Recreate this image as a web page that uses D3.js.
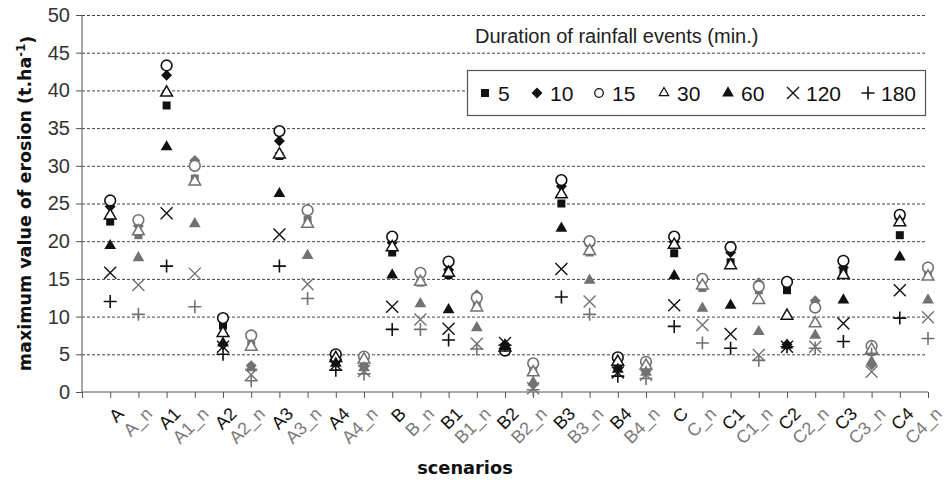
<!DOCTYPE html>
<html>
<head>
<meta charset="utf-8">
<script src="https://cdn.jsdelivr.net/npm/d3@7"></script>
<style>
  body { margin: 0; background: #fff; }
  text { font-family: "Liberation Sans", Arial, sans-serif; }
</style>
</head>
<body>
<div id="chart"></div>
<script>
const scenarios = ["A", "A_n", "A1", "A1_n", "A2", "A2_n", "A3", "A3_n", "A4", "A4_n",
  "B", "B_n", "B1", "B1_n", "B2", "B2_n", "B3", "B3_n", "B4", "B4_n",
  "C", "C_n", "C1", "C1_n", "C2", "C2_n", "C3", "C3_n", "C4", "C4_n"];

const durations = ["5", "10", "15", "30", "60", "120", "180"];

// one array per rainfall duration, same order as scenarios
const d5   = [22.6, 20.8, 38.0, 28.3, 8.8, 6.3, 31.3, 22.8, 4.3, 3.6, 18.5, 14.5, 15.5, 11.5, 5.8, 3.3, 25.0, 18.5, 3.5, 3.0, 18.4, 13.8, 17.2, 13.5, 13.5, 11.6, 15.9, 5.3, 20.8, 15.5];
const d10  = [24.6, 22.0, 42.0, 30.7, 6.3, 3.5, 33.3, 24.3, 4.0, 3.5, 19.8, 15.8, 16.2, 12.9, 6.3, 1.0, 27.3, 19.5, 3.2, 2.8, 19.9, 14.8, 18.5, 14.5, 6.3, 12.1, 16.5, 3.6, 23.0, 16.6];
const d15  = [25.4, 22.8, 43.3, 30.0, 9.8, 7.5, 34.6, 24.1, 5.0, 4.7, 20.6, 15.8, 17.3, 12.5, 5.5, 3.8, 28.1, 20.0, 4.6, 4.0, 20.6, 15.0, 19.2, 14.0, 14.6, 11.2, 17.4, 6.1, 23.5, 16.5];
const d30  = [23.4, 21.3, 39.7, 27.9, 7.8, 6.0, 31.5, 22.3, 4.5, 4.3, 19.2, 14.6, 15.8, 11.2, 5.9, 2.6, 26.2, 18.7, 4.0, 3.5, 19.5, 14.1, 16.8, 12.2, 10.1, 9.1, 15.5, 5.6, 22.5, 15.3];
const d60  = [19.4, 17.8, 32.5, 22.3, 6.5, 3.2, 26.3, 18.1, 3.8, 3.2, 15.5, 11.7, 10.9, 8.5, 6.0, 1.3, 21.7, 14.8, 3.0, 2.6, 15.4, 11.1, 11.5, 8.0, 6.2, 7.5, 12.2, 4.0, 17.9, 12.2];
const d120 = [15.8, 14.2, 23.7, 15.7, 6.0, 2.3, 20.9, 14.3, 3.6, 2.8, 11.3, 9.6, 8.4, 6.4, 6.5, 0.5, 16.3, 12.0, 2.6, 2.3, 11.5, 8.9, 7.7, 4.9, 6.0, 6.0, 9.1, 2.7, 13.5, 9.9];
const d180 = [12.0, 10.3, 16.7, 11.3, 5.0, 1.5, 16.7, 12.4, 2.9, 2.4, 8.3, 8.3, 6.9, 5.7, 6.2, 0.3, 12.6, 10.3, 2.1, 1.8, 8.7, 6.5, 5.8, 4.2, 6.0, 5.8, 6.7, 5.0, 9.8, 7.1];

const seriesValues = [d5, d10, d15, d30, d60, d120, d180];
const yTicks = [0, 5, 10, 15, 20, 25, 30, 35, 40, 45, 50];

const width = 950, height = 480;
const margin = { top: 15, right: 22, bottom: 88, left: 82 };
const BLACK = "#111", GREY = "#727272", LABEL_GREY = "#7a7a7a";
const BOLD_FONT = "'DejaVu Sans', Verdana, sans-serif";

const svg = d3.select("#chart").append("svg")
  .attr("width", width)
  .attr("height", height);

// x is numeric 0..30, scenario i sits on tick i+1
const x = d3.scaleLinear()
  .domain([0, scenarios.length])
  .range([margin.left, width - margin.right]);

const y = d3.scaleLinear()
  .domain([0, 50])
  .range([height - margin.bottom, margin.top]);

const isN = i => scenarios[i].endsWith("_n");
const colorOf = i => isN(i) ? GREY : BLACK;

// gridlines
svg.append("g")
  .selectAll("line")
  .data(yTicks.filter(t => t > 0))
  .enter()
  .append("line")
  .attr("x1", x(0))
  .attr("x2", x(scenarios.length) - 3)
  .attr("y1", d => y(d) + 0.5)
  .attr("y2", d => y(d) + 0.5)
  .attr("stroke", "#444")
  .attr("stroke-width", 1)
  .attr("stroke-dasharray", "3,2");

// y axis
const yAxis = svg.append("g")
  .attr("transform", `translate(${x(0)},0)`)
  .call(d3.axisLeft(y).tickValues(yTicks).tickSize(6).tickPadding(6));
yAxis.select("path.domain").attr("stroke", "#555").attr("d", `M0,${y(50)}V${y(0)}`);
yAxis.selectAll(".tick line").attr("stroke", "#555");
yAxis.selectAll("text")
  .attr("font-size", 20)
  .attr("fill", "#333")
  .style("font-family", "'Liberation Sans', Arial, sans-serif");

// x axis
const xAxis = svg.append("g")
  .attr("transform", `translate(0,${y(0)})`)
  .call(d3.axisBottom(x).tickValues(d3.range(0, scenarios.length + 1)).tickSize(6).tickFormat(""));
xAxis.select("path.domain").attr("stroke", "#555").attr("d", `M${x(0)},0H${x(scenarios.length)}`);
xAxis.selectAll(".tick line").attr("stroke", "#555");

svg.append("g")
  .selectAll("text")
  .data(scenarios)
  .enter()
  .append("text")
  .attr("transform", (d, i) => `translate(${x(i + 1) + 6},${y(0) + 14}) rotate(-45)`)
  .attr("text-anchor", "end")
  .attr("dy", "0.7em")
  .attr("font-size", 18)
  .attr("fill", (d, i) => isN(i) ? LABEL_GREY : BLACK)
  .text(d => d);

// marker shapes
const sym = {
  square: d3.symbol().type(d3.symbolSquare).size(64),
  diamond: d3.symbol().type(d3.symbolSquare).size(60),
  circle: d3.symbol().type(d3.symbolCircle).size(90),
  triangle: d3.symbol().type(d3.symbolTriangle).size(60),
};
const shapes = ["square", "diamond", "circle", "triangleOpen", "triangle", "x", "plus"];

function drawMarker(g, shape, color, scale) {
  const s = scale || 1;
  if (shape === "square") {
    g.append("path").attr("d", sym.square()).attr("fill", color).attr("transform", `scale(${s})`);
  } else if (shape === "diamond") {
    g.append("path").attr("d", sym.diamond()).attr("fill", color).attr("transform", `scale(${s}) rotate(45)`);
  } else if (shape === "circle") {
    g.append("path").attr("d", sym.circle()).attr("fill", "#fff").attr("stroke", color).attr("stroke-width", 1.6).attr("transform", `scale(${s})`);
  } else if (shape === "triangleOpen") {
    g.append("path").attr("d", sym.triangle()).attr("fill", "#fff").attr("stroke", color).attr("stroke-width", 1.5).attr("transform", `scale(${s})`);
  } else if (shape === "triangle") {
    g.append("path").attr("d", sym.triangle()).attr("fill", color).attr("transform", `scale(${s})`);
  } else if (shape === "x") {
    const r = 6 * s;
    g.append("path").attr("d", `M${-r},${-r}L${r},${r}M${-r},${r}L${r},${-r}`).attr("stroke", color).attr("stroke-width", 1.4);
  } else if (shape === "plus") {
    const r = 6.5 * s;
    g.append("path").attr("d", `M${-r},0H${r}M0,${-r}V${r}`).attr("stroke", color).attr("stroke-width", 1.6);
  }
}

// points
seriesValues.forEach((vals, si) => {
  const g = svg.append("g").attr("class", "series s" + durations[si]);
  vals.forEach((v, i) => {
    const m = g.append("g").attr("transform", `translate(${x(i + 1)},${y(v)})`);
    drawMarker(m, shapes[si], colorOf(i));
  });
});

// legend
svg.append("text")
  .attr("x", 475)
  .attr("y", 43)
  .attr("font-size", 20)
  .attr("fill", "#222")
  .text("Duration of rainfall events (min.)");

svg.append("rect")
  .attr("x", 467.5).attr("y", 70.5)
  .attr("width", 458).attr("height", 45)
  .attr("fill", "#fff")
  .attr("stroke", "#555")
  .attr("stroke-width", 1.2);

const legendX = [485, 537, 599, 664, 728, 793, 868];
durations.forEach((d, i) => {
  const m = svg.append("g").attr("transform", `translate(${legendX[i]},${93})`);
  drawMarker(m, shapes[i], BLACK, i === 2 || i === 3 ? 0.8 : 1);
  svg.append("text")
    .attr("x", legendX[i] + 13)
    .attr("y", 100.5)
    .attr("font-size", 21)
    .attr("fill", "#111")
    .text(d);
});

// axis titles
svg.append("text")
  .attr("x", 465)
  .attr("y", 474)
  .attr("text-anchor", "middle")
  .attr("font-size", 17.8)
  .attr("font-weight", "bold")
  .attr("fill", "#111")
  .style("font-family", BOLD_FONT)
  .text("scenarios");

const yt = svg.append("text")
  .attr("transform", `translate(31,${y(25)}) rotate(-90)`)
  .attr("text-anchor", "middle")
  .attr("font-size", 17.5)
  .attr("font-weight", "bold")
  .attr("fill", "#111")
  .style("font-family", BOLD_FONT);
yt.append("tspan").text("maximum value of erosion (t.ha");
yt.append("tspan").attr("dy", "-0.5em").attr("font-size", 11.5).text("-1");
yt.append("tspan").attr("dy", "0.5em").text(")");
</script>
</body>
</html>
